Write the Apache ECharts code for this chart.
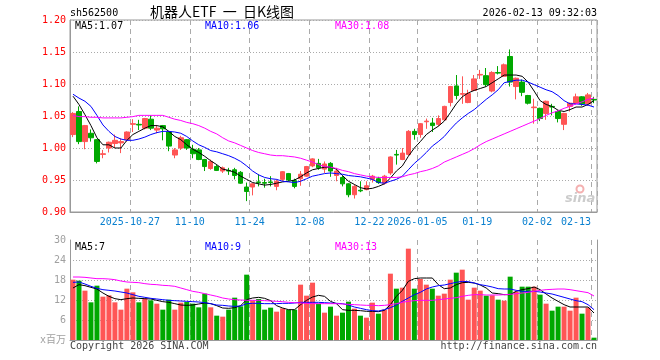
<!DOCTYPE html>
<html>
<head>
<meta charset="utf-8">
<script src="https://cdn.jsdelivr.net/npm/echarts@6/dist/echarts.min.js"></script>
<style>
html,body{margin:0;padding:0;background:#fff;}
#chart{width:660px;height:360px;}
</style>
</head>
<body>
<div id="chart"></div>
<script>
const dates = [
'2025-10-13','2025-10-14','2025-10-15','2025-10-16','2025-10-17','2025-10-20','2025-10-21','2025-10-22','2025-10-23','2025-10-24',
'2025-10-27','2025-10-28','2025-10-29','2025-10-30','2025-10-31',
'2025-11-03','2025-11-04','2025-11-05','2025-11-06','2025-11-07','2025-11-10','2025-11-11','2025-11-12','2025-11-13','2025-11-14',
'2025-11-17','2025-11-18','2025-11-19','2025-11-20','2025-11-21','2025-11-24','2025-11-25','2025-11-26','2025-11-27','2025-11-28',
'2025-12-01','2025-12-02','2025-12-03','2025-12-04','2025-12-05','2025-12-08','2025-12-09','2025-12-10','2025-12-11','2025-12-12',
'2025-12-15','2025-12-16','2025-12-17','2025-12-18','2025-12-19','2025-12-22','2025-12-23','2025-12-24','2025-12-25','2025-12-26',
'2025-12-29','2025-12-30','2025-12-31',
'2026-01-05','2026-01-06','2026-01-07','2026-01-08','2026-01-09','2026-01-12','2026-01-13','2026-01-14','2026-01-15','2026-01-16',
'2026-01-19','2026-01-20','2026-01-21','2026-01-22','2026-01-23','2026-01-26','2026-01-27','2026-01-28','2026-01-29','2026-01-30',
'2026-02-02','2026-02-03','2026-02-04','2026-02-05','2026-02-06','2026-02-09','2026-02-10','2026-02-11','2026-02-12','2026-02-13'
];

// [open, close, low, high]
const ohlc = [
[1.021,1.054,1.017,1.056],[1.057,1.010,1.006,1.065],[1.010,1.035,0.998,1.036],[1.023,1.016,1.010,1.029],[1.013,0.979,0.976,1.014],
[0.990,0.991,0.984,0.997],[1.000,1.009,0.993,1.010],[1.007,1.012,1.000,1.021],[1.008,1.010,0.992,1.015],[1.013,1.025,1.010,1.026],
[1.037,1.038,1.025,1.045],[1.037,1.036,1.028,1.044],[1.031,1.046,1.029,1.047],[1.045,1.031,1.028,1.051],[1.028,1.031,1.023,1.036],
[1.035,1.030,1.012,1.036],[1.025,1.003,0.995,1.026],[0.989,0.997,0.984,1.000],[1.000,1.016,0.997,1.019],[1.013,1.000,0.997,1.014],
[0.998,0.991,0.984,1.005],[0.997,0.982,0.981,1.000],[0.982,0.971,0.964,0.983],[0.968,0.979,0.966,0.982],[0.971,0.965,0.964,0.974],
[0.964,0.969,0.961,0.971],[0.965,0.964,0.958,0.969],[0.966,0.957,0.951,0.969],[0.962,0.945,0.944,0.964],[0.939,0.932,0.917,0.946],
[0.939,0.944,0.926,0.945],[0.947,0.946,0.940,0.959],[0.946,0.945,0.938,0.952],[0.947,0.946,0.940,0.956],[0.940,0.948,0.934,0.951],
[0.951,0.963,0.948,0.964],[0.960,0.950,0.948,0.961],[0.949,0.940,0.937,0.952],[0.952,0.959,0.941,0.964],[0.956,0.971,0.955,0.972],
[0.972,0.983,0.970,0.984],[0.976,0.969,0.966,0.983],[0.967,0.975,0.961,0.979],[0.976,0.964,0.955,0.978],[0.957,0.964,0.948,0.969],
[0.954,0.944,0.940,0.957],[0.944,0.927,0.923,0.945],[0.927,0.940,0.921,0.943],[0.934,0.933,0.931,0.948],[0.935,0.941,0.934,0.948],
[0.951,0.956,0.946,0.958],[0.952,0.946,0.944,0.955],[0.945,0.956,0.943,0.958],[0.961,0.986,0.958,0.987],[0.990,0.989,0.974,0.997],
[0.982,0.992,0.981,1.000],[0.990,1.026,0.988,1.028],[1.026,1.021,1.013,1.030],[1.021,1.038,1.016,1.039],[1.041,1.042,1.030,1.046],
[1.039,1.035,1.025,1.047],[1.037,1.046,1.034,1.051],[1.044,1.065,1.043,1.066],[1.071,1.096,1.065,1.097],[1.097,1.082,1.076,1.114],
[1.084,1.085,1.069,1.112],[1.071,1.085,1.070,1.091],[1.090,1.108,1.089,1.114],[1.114,1.115,1.108,1.122],[1.113,1.099,1.096,1.125],
[1.089,1.118,1.087,1.120],[1.118,1.117,1.115,1.128],[1.112,1.130,1.111,1.132],[1.143,1.103,1.096,1.154],[1.096,1.109,1.076,1.110],
[1.103,1.087,1.081,1.107],[1.082,1.070,1.068,1.083],[1.063,1.064,1.038,1.077],[1.062,1.046,1.042,1.063],[1.054,1.073,1.044,1.074],
[1.065,1.064,1.051,1.069],[1.057,1.046,1.040,1.059],[1.037,1.054,1.028,1.055],[1.065,1.070,1.057,1.071],[1.070,1.080,1.068,1.085],
[1.080,1.069,1.066,1.081],[1.069,1.083,1.066,1.086],[1.076,1.075,1.070,1.080]
];

const volume = [
18.1,17.8,14.8,11.3,16.3,13.0,13.4,11.3,9.1,15.4,14.3,11.3,12.4,11.9,10.9,9.1,12.1,9.1,11.2,11.4,10.9,9.8,13.9,9.8,7.3,
7.0,9.1,12.7,10.1,19.6,11.9,12.3,9.1,9.7,8.5,9.5,9.1,9.1,16.6,13.3,17.2,10.9,8.2,10.0,7.3,8.2,11.5,9.4,7.3,6.7,11.2,7.9,9.1,19.9,15.4,15.7,27.4,15.4,18.3,16.6,
15.4,13.3,13.9,18.1,20.2,21.1,12.1,15.7,14.8,13.3,13.4,12.1,11.8,19.0,14.5,16.0,16.0,16.0,13.6,10.9,8.8,10.0,10.0,8.8,12.7,7.9,9.7,0.7
];

const ma5 = [
1.081,1.068,1.052,1.035,1.016,1.005,1.005,1.000,1.000,1.012,1.021,1.026,1.031,1.035,1.035,1.033,1.026,1.018,1.013,1.005,0.998,0.993,0.987,0.980,0.974,
0.967,0.965,0.962,0.956,0.951,0.946,0.944,0.942,0.943,0.945,0.947,0.948,0.950,0.955,0.961,0.966,0.968,0.970,0.970,0.967,0.957,0.948,0.943,0.938,0.936,0.937,0.940,0.944,0.953,0.964,0.972,0.987,1.000,1.010,1.021,
1.028,1.034,1.042,1.055,1.069,1.080,1.086,1.090,1.093,1.096,1.102,1.108,1.114,1.114,1.114,1.112,1.103,1.089,1.074,1.068,1.065,1.059,1.057,1.060,1.064,1.064,1.068,1.074
];
const ma10 = [
1.084,1.078,1.073,1.065,1.051,1.036,1.026,1.018,1.014,1.012,1.012,1.014,1.017,1.021,1.024,1.026,1.026,1.025,1.023,1.018,1.011,1.005,1.001,0.996,0.994,
0.991,0.988,0.984,0.979,0.972,0.964,0.958,0.954,0.952,0.951,0.948,0.947,0.946,0.948,0.952,0.956,0.958,0.960,0.961,0.960,0.959,0.957,0.956,0.955,0.953,0.951,0.946,0.945,0.948,0.951,0.956,0.966,0.976,0.984,0.993,
1.003,1.010,1.018,1.029,1.039,1.047,1.054,1.060,1.068,1.076,1.083,1.091,1.102,1.104,1.106,1.106,1.103,1.099,1.095,1.091,1.088,1.082,1.074,1.069,1.069,1.068,1.067,1.064
];
const ma30 = [
1.051,1.049,1.049,1.048,1.048,1.047,1.047,1.047,1.047,1.048,1.049,1.051,1.051,1.051,1.051,1.051,1.048,1.045,1.043,1.040,1.038,1.035,1.031,1.026,1.022,
1.016,1.011,1.008,1.004,1.000,0.996,0.993,0.991,0.989,0.988,0.988,0.987,0.986,0.984,0.981,0.978,0.974,0.971,0.970,0.968,0.965,0.963,0.960,0.958,0.956,0.955,0.954,0.954,0.954,0.954,0.955,0.958,0.960,0.963,0.965,
0.968,0.972,0.978,0.982,0.986,0.990,0.994,0.999,1.005,1.010,1.014,1.018,1.022,1.026,1.030,1.034,1.038,1.042,1.046,1.051,1.055,1.058,1.062,1.065,1.069,1.072,1.076,1.078
];
const vma5 = [
15.6,16.6,16.3,15.8,15.3,14.1,13.1,12.4,12.1,12.4,12.6,12.5,12.4,12.3,11.9,11.5,11.3,10.9,10.5,10.4,10.5,10.8,11.1,10.9,10.3,
9.6,9.5,9.7,10.3,12.1,12.6,12.8,12.5,11.8,10.3,9.6,9.1,9.1,10.6,11.9,12.9,13.4,13.1,11.6,10.9,9.1,8.9,8.9,8.8,8.6,8.6,8.5,8.9,10.6,13.1,14.9,17.6,18.4,18.6,18.6,
18.6,16.6,15.4,15.6,16.6,17.2,17.3,17.1,16.5,15.6,14.1,13.9,13.6,13.6,14.6,15.1,15.4,15.9,15.1,13.8,12.6,11.6,10.6,9.9,9.9,9.9,9.9,8.1
];
const vma10 = [
17.3,17.4,16.8,16.1,15.5,15.1,14.9,14.7,14.4,14.1,13.6,13.1,12.8,12.5,12.3,12.1,11.9,11.8,11.7,11.6,11.5,11.4,11.2,10.9,10.5,
10.4,10.2,10.1,10.2,10.9,11.0,11.0,10.9,10.9,10.9,11.0,11.0,11.1,11.3,11.3,11.3,11.3,11.2,11.1,11.0,10.9,10.5,9.9,9.5,9.1,8.8,8.7,9.1,9.7,10.5,11.6,12.6,13.6,14.3,15.3,
15.9,16.3,16.5,16.9,17.3,17.6,17.5,17.1,16.6,16.3,15.9,15.4,15.3,15.3,14.9,14.6,14.6,14.6,14.4,14.1,13.8,13.3,12.8,12.3,11.8,11.5,10.6,9.1
];
const vma30 = [
18.9,18.9,18.8,18.6,18.4,18.4,18.3,18.1,17.7,17.4,17.3,17.2,16.9,16.7,16.6,16.4,16.3,16.1,15.6,15.1,14.6,14.3,13.9,13.5,13.1,
12.6,12.3,12.1,12.0,11.9,11.9,11.9,11.8,11.7,11.6,11.5,11.3,11.2,11.1,11.0,10.9,10.9,10.9,10.9,10.9,10.8,10.7,10.6,10.5,10.4,10.4,10.3,10.4,10.6,10.9,11.3,11.6,11.8,11.9,11.9,
11.9,12.1,12.3,12.5,12.7,13.1,13.4,13.6,13.6,13.5,13.5,13.5,13.6,13.7,13.9,14.1,14.3,14.6,14.9,15.1,15.2,15.3,15.3,15.1,14.8,14.5,14.2,13.2
];

const tickDates  = ['2025-10-27','2025-11-10','2025-11-24','2025-12-08','2025-12-22','2026-01-05','2026-01-19','2026-02-02','2026-02-13'];
const tickLabels = ['2025-10-27','11-10','11-24','12-08','12-22','2026-01-05','01-19','02-02','02-13'];

const UP = '#ff5555', DOWN = '#00a800', GRID = '#aaaaaa', BORDER = '#999999';
const MONO = '"DejaVu Sans Mono", "Liberation Mono", "Noto Sans CJK SC", monospace';

const chart = echarts.init(document.getElementById('chart'), null, {renderer: 'canvas'});
const isTick = (idx, val) => tickDates.indexOf(val) >= 0;

const volData = volume.map((v, i) => ({
  value: v,
  itemStyle: {color: ohlc[i][1] > ohlc[i][0] ? UP : DOWN}
}));

function txt(x, y, text, color, opts) {
  opts = opts || {};
  return {
    type: 'text', x: x, y: y, z: 100, silent: true,
    style: {
      text: text, fill: color,
      font: opts.font || ('10px ' + MONO),
      align: opts.align || 'left', verticalAlign: 'middle'
    }
  };
}

const option = {
  animation: false,
  backgroundColor: '#ffffff',
  grid: [
    {left: 70, top: 20, width: 527, height: 192, show: true, borderColor: BORDER, borderWidth: 1, backgroundColor: 'transparent'},
    {left: 70, top: 240, width: 527, height: 100, show: false}
  ],
  xAxis: [
    {
      type: 'category', gridIndex: 0, data: dates, boundaryGap: true,
      axisLine: {show: true, lineStyle: {color: BORDER}},
      axisTick: {show: false},
      splitLine: {show: true, interval: isTick, lineStyle: {color: GRID, type: [5, 4], width: 1}},
      axisLabel: {
        show: true, interval: isTick, margin: 5, alignMaxLabel: 'right',
        formatter: function (val) {
          const k = tickDates.indexOf(val);
          if (k < 0) return '';
          return (k === tickDates.length - 1 ? '{e|' : '{c|') + tickLabels[k] + '}';
        },
        rich: {
          c: {padding: [0, 6, 0, 0], color: '#0a80d0', fontSize: 10, fontFamily: MONO},
          e: {padding: [0, 3, 0, 0], color: '#0a80d0', fontSize: 10, fontFamily: MONO}
        }
      }
    },
    {
      type: 'category', gridIndex: 1, data: dates, boundaryGap: true, position: 'top',
      axisLine: {show: true, lineStyle: {color: BORDER}},
      axisTick: {show: false},
      axisLabel: {show: false},
      splitLine: {show: true, interval: isTick, lineStyle: {color: GRID, type: [5, 4], width: 1}}
    }
  ],
  yAxis: [
    {
      type: 'value', gridIndex: 0, min: 0.9, max: 1.2, interval: 0.05,
      axisLine: {show: true, lineStyle: {color: BORDER}},
      axisTick: {show: false},
      axisLabel: {color: '#ff0000', fontSize: 10, fontFamily: MONO, margin: 4, formatter: v => v.toFixed(2)},
      splitLine: {show: true, lineStyle: {color: GRID, type: [1, 2], width: 1}}
    },
    {
      type: 'value', gridIndex: 1, min: 0, max: 30, interval: 6,
      axisLine: {show: true, lineStyle: {color: BORDER}},
      axisTick: {show: false},
      axisLabel: {color: '#a0a0a0', fontSize: 10, fontFamily: MONO, margin: 4,
        formatter: v => (v === 0 ? 'x百万' : String(v))},
      splitLine: {show: true, lineStyle: {color: ['transparent', GRID, GRID, GRID, GRID, 'transparent'], type: [1, 2], width: 1}}
    },
    {
      type: 'value', gridIndex: 1, min: 0, max: 30, interval: 6, position: 'right',
      axisLine: {show: true, lineStyle: {color: BORDER}},
      axisTick: {show: false}, axisLabel: {show: false}, splitLine: {show: false}
    }
  ],
  series: [
    {
      type: 'candlestick', xAxisIndex: 0, yAxisIndex: 0, data: ohlc, barWidth: 5, silent: true,
      itemStyle: {color: UP, color0: DOWN, borderColor: UP, borderColor0: DOWN, borderWidth: 1}
    },
    {type: 'line', xAxisIndex: 0, yAxisIndex: 0, data: ma5, showSymbol: false, silent: true, z: 5, lineStyle: {color: '#000000', width: 1}},
    {type: 'line', xAxisIndex: 0, yAxisIndex: 0, data: ma10, showSymbol: false, silent: true, z: 5, lineStyle: {color: '#0000ff', width: 1}},
    {type: 'line', xAxisIndex: 0, yAxisIndex: 0, data: ma30, showSymbol: false, silent: true, z: 5, lineStyle: {color: '#ff00ff', width: 1}},
    {type: 'bar', xAxisIndex: 1, yAxisIndex: 1, data: volData, barWidth: 5, silent: true},
    {type: 'line', xAxisIndex: 1, yAxisIndex: 1, data: vma5, showSymbol: false, silent: true, z: 5, lineStyle: {color: '#000000', width: 1}},
    {type: 'line', xAxisIndex: 1, yAxisIndex: 1, data: vma10, showSymbol: false, silent: true, z: 5, lineStyle: {color: '#0000ff', width: 1}},
    {type: 'line', xAxisIndex: 1, yAxisIndex: 1, data: vma30, showSymbol: false, silent: true, z: 5, lineStyle: {color: '#ff00ff', width: 1}}
  ],
  graphic: [
    txt(70, 13, 'sh562500', '#000000'),
    txt(150, 12, '机器人ETF  一  日K线图', '#000000', {font: '14px "Noto Sans CJK SC", sans-serif'}),
    txt(597, 13, '2026-02-13 09:32:03', '#000000', {align: 'right'}),
    txt(75, 26, 'MA5:1.07', '#000000'),
    txt(205, 26, 'MA10:1.06', '#0000ff'),
    txt(335, 26, 'MA30:1.08', '#ff00ff'),
    txt(75, 247, 'MA5:7', '#000000'),
    txt(205, 247, 'MA10:9', '#0000ff'),
    txt(335, 247, 'MA30:13', '#ff00ff'),
    txt(70, 346, 'Copyright 2026 SINA.COM', '#444444'),
    txt(597, 346, 'http://finance.sina.com.cn', '#444444', {align: 'right'}),
    {type: 'circle', shape: {cx: 580, cy: 189, r: 3.5}, z: 1, silent: true, style: {fill: 'none', stroke: '#f4b0b0', lineWidth: 2}},
    txt(565, 199, 'sina', '#cccccc', {font: 'italic bold 13px "DejaVu Sans", sans-serif'})
  ]
};
chart.setOption(option);
</script>
</body>
</html>
